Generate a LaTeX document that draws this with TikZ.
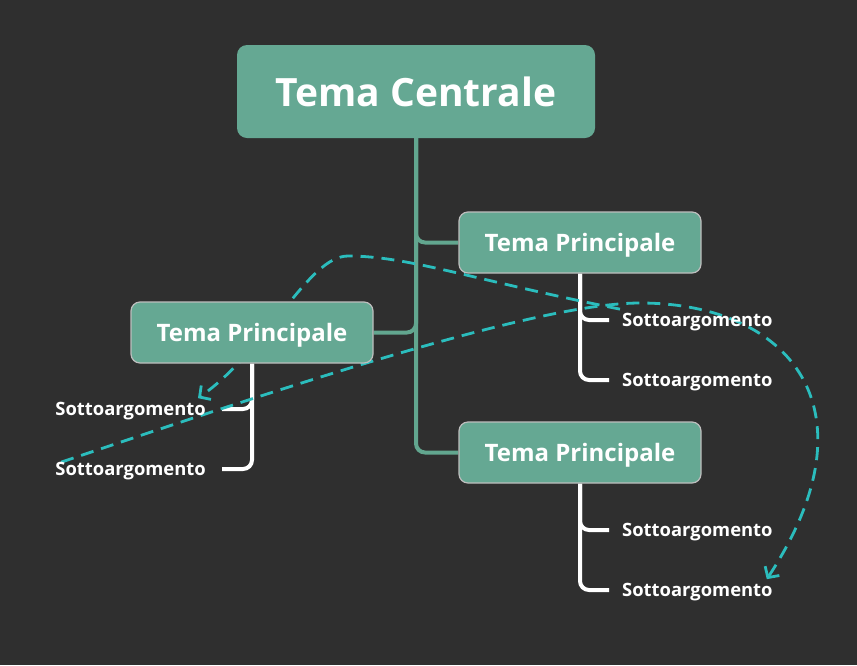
\documentclass[tikz,border=0pt]{standalone}
\usepackage{fontspec}
\setmainfont{Open Sans}
\usepackage{xcolor}
\definecolor{bgdark}{RGB}{47, 47, 47}
\definecolor{topicgreen}{RGB}{101, 168, 147}
\definecolor{branchgreen}{RGB}{98, 166, 143}
\definecolor{topicedge}{RGB}{190, 190, 190}
\definecolor{linkcyan}{RGB}{43, 189, 189}
\usepackage{tikz}
\usetikzlibrary{arrows.meta}

\pgfdeclarelayer{background}
\pgfdeclarelayer{links}
\pgfsetlayers{background,links,main}

\begin{document}
\begin{tikzpicture}[x=1pt, y=-1pt, >={Straight Barb[length=8pt,width=17pt]},
    central/.style={fill=topicgreen, rounded corners=10pt, minimum width=358pt, minimum height=93pt, inner sep=0pt, text depth=0pt, text=white, font=\fontsize{39}{44}\selectfont\bfseries},
    maintopic/.style={fill=topicgreen, draw=topicedge, line width=1.2pt, rounded corners=9pt, minimum width=242pt, minimum height=61pt, inner sep=0pt, text depth=0pt, text=white, font=\fontsize{24}{28}\selectfont\bfseries},
    subtopic/.style={inner xsep=2pt, inner ysep=4pt, text depth=0pt, text=white, font=\fontsize{18.4}{22}\selectfont\bfseries},
    branch/.style={draw=branchgreen, line width=4pt, rounded corners=9pt},
    twig/.style={draw=white, line width=4pt, rounded corners=9pt},
    relation/.style={draw=linkcyan, line width=2.8pt, dash pattern=on 13pt off 8pt}]

    % Background
    \useasboundingbox (0,0) rectangle (857,665);
    \begin{pgfonlayer}{background}
        \fill[bgdark] (0,0) rectangle (857,665);
    \end{pgfonlayer}

    % Central topic
    \node[central] (centre) at (416,91.5) {Tema Centrale};

    % Main topics
    \node[maintopic] (rp1) at (580,242.5) {Tema Principale};
    \node[maintopic] (lp) at (252,332.5) {Tema Principale};
    \node[maintopic] (rp2) at (580,452.5) {Tema Principale};

    % Subtopics
    \node[subtopic, anchor=west] (rs1) at (620,320) {Sottoargomento};
    \node[subtopic, anchor=west] (rs2) at (620,380) {Sottoargomento};
    \node[subtopic, anchor=east] (ls1) at (208,409) {Sottoargomento};
    \node[subtopic, anchor=east] (ls2) at (208,469) {Sottoargomento};
    \node[subtopic, anchor=west] (rs3) at (620,530) {Sottoargomento};
    \node[subtopic, anchor=west] (rs4) at (620,590) {Sottoargomento};

    \begin{pgfonlayer}{links}
        % Branches from the central topic
        \draw[branch] (centre.south) |- (rp1.west);
        \draw[branch] (centre.south) |- (lp.east);
        \draw[branch] (centre.south) |- (rp2.west);

        % Twigs to the subtopics
        \draw[twig, shorten >=11pt] (rp1.south) |- (rs1.west);
        \draw[twig, shorten >=11pt] (rp1.south) |- (rs2.west);
        \draw[twig, shorten >=14pt] (lp.south) |- (ls1.east);
        \draw[twig, shorten >=14pt] (lp.south) |- (ls2.east);
        \draw[twig, shorten >=11pt] (rp2.south) |- (rs3.west);
        \draw[twig, shorten >=11pt] (rp2.south) |- (rs4.west);

        % Relations
        \coordinate (arcA) at (348,256);
        \coordinate (arcB) at (640,303);
        \draw[relation, ->] (rs1.north west) .. controls +(-150,-30) and +(60,0) .. (arcA)
            .. controls +(-40,0) and +(70,-49) .. ([xshift=-10pt]ls1.north east);
        \draw[relation, ->] ([xshift=8pt,yshift=-4pt]ls2.north west) .. controls +(243,-82) and +(-100,0) .. (arcB)
            .. controls +(150,0) and +(112,-170) .. ([xshift=-8pt]rs4.north east);
    \end{pgfonlayer}
\end{tikzpicture}
\end{document}
